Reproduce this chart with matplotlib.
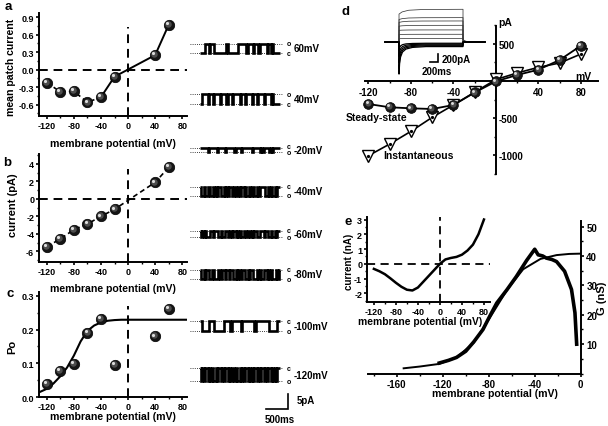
import numpy as np
import matplotlib
matplotlib.use("Agg")
import matplotlib.pyplot as plt
from matplotlib.ticker import MultipleLocator, FixedLocator, FormatStrFormatter
from matplotlib.transforms import offset_copy

plt.rcParams['font.family'] = ['Liberation Sans', 'DejaVu Sans']
plt.rcParams['font.weight'] = 'bold'
plt.rcParams['axes.labelweight'] = 'bold'
plt.rcParams['axes.unicode_minus'] = False

# ---------------- data ----------------
# panels a-c: single-channel recordings
patch_mv = [-120, -100, -80, -60, -40, -20, 40, 60]
mean_patch_current = [-0.22, -0.38, -0.37, -0.56, -0.47, -0.12, 0.25, 0.77]
unit_current_pA = [-5.45, -4.57, -3.5, -2.86, -1.98, -1.18, 1.9, 3.62]
open_probability = [0.039, 0.079, 0.098, 0.19, 0.231, 0.095, 0.18, 0.26]
po_fit_mv = [-131, -120, -110, -100, -90, -80, -70, -60, -50, -40, -30, -20, -10, 0, 20, 40, 60, 87]
po_fit = [0.015, 0.025, 0.041, 0.062, 0.088, 0.123, 0.165, 0.196, 0.212, 0.221, 0.226,
          0.228, 0.229, 0.229, 0.229, 0.229, 0.229, 0.229]

# single-channel traces (1 = open, 0 = closed, equal time bins over 1830 ms)
trace_labels = ['60mV', '40mV', '-20mV', '-40mV', '-60mV', '-80mV', '-100mV', '-120mV']
trace_amp_pA = [3.3, 3.3, -1.3, -3.0, -2.2, -3.1, -3.3, -4.4]
trace_states = [
    "000011101110000000001000000001111110111101110111110110100000",
    "001111011101111011110111011111011101111011101111011110100000",
    "000000100000010000010000001000010000000100000101000010100000",
    "011011001101010011010100110110100101101001101000011010110100",
    "010101110010001101100110100101011001001010011000100110110100",
    "011010011001110110010010011010110011010011101011001010111010",
    "001111100001111111000001000000010000000001000000000011111100",
    "010100101011010010100101001011010100101010010100101001010100",
]
trace_duration_ms = 1830

# panel d: whole-cell I-V
iv_mv = [-120, -100, -80, -60, -40, -20, 0, 20, 40, 60, 80]
steady_pA = [-310, -354, -368, -377, -323, -155, -5, 81, 152, 283, 475]
instant_pA = [-1005, -848, -677, -489, -323, -150, 20, 108, 184, 242, 363]

# panel d inset: current family
dep_initial_pA = [670, 540, 470, 380, 280, 180, 80]
dep_steady_pA = [785, 585, 505, 400, 290, 185, 82]
hyp_peak_pA = [-770, -640, -500, -350, -200]
hyp_steady_pA = [-110, -90, -70, -50, -30]
rise_t_ms = [0, 80, 250, 600, 1662]
rise_frac = [0, 0.45, 0.8, 0.95, 1.0]
relax_t_ms = [0, 15, 40, 90, 180, 350, 700, 1662]
relax_frac = [1, 0.62, 0.38, 0.2, 0.09, 0.03, 0.0, 0.0]

# panel e: ramp current and conductance
ramp_mv = [-120, -110, -100, -90, -80, -70, -60, -50, -40, -30, -20, -10, 0, 10, 20, 30, 40, 50, 60, 70, 80]
ramp_nA = [-0.34, -0.5, -0.7, -0.98, -1.28, -1.55, -1.75, -1.8, -1.6, -1.2, -0.8, -0.4,
           0.0, 0.3, 0.4, 0.47, 0.62, 0.9, 1.3, 2.0, 3.0]
g_mv = [-123, -115, -108, -100, -93, -85, -79, -73, -64, -56, -47, -40, -37, -33, -30,
        -25, -21, -14, -8, -5, -3.5]
g_nS = [3.6, 4.5, 5.5, 7.6, 10.8, 15, 19.6, 24, 28.6, 33, 38.5, 42.3, 40.4, 40.0, 39.3,
        38.8, 38.1, 34.8, 28.6, 20.7, 10]
g_fit_mv = [-154, -140, -123, -108, -93, -79, -64, -50, -35, -21, -10, 0]
g_fit_nS = [1.8, 2.4, 3.3, 5.5, 10.5, 19, 28.5, 35.5, 39, 40.3, 40.7, 40.8]

# ---------------- figure ----------------
W, H = 608, 427
fig = plt.figure(figsize=(W / 100, H / 100), dpi=100)


def add_ax(l, t, r, b):
    return fig.add_axes([l / W, 1 - b / H, (r - l) / W, (b - t) / H])


def ftext(x, y, s, **kw):
    kw.setdefault('fontweight', 'bold')
    fig.text(x / W, 1 - y / H, s, **kw)


def fig_xy(x, y):
    return (x / W, 1 - y / H)


DASH = (0, (4.5, 3))
K = 'black'


def spheres(ax, x, y, ms=7.5, z=5):
    ax.plot(x, y, 'o', ls='none', ms=ms, mfc='#151515', mec='#000000', mew=0.5,
            zorder=z, clip_on=False)
    t1 = offset_copy(ax.transData, fig=fig, x=-0.6, y=0.6, units='points')
    ax.plot(x, y, 'o', ls='none', ms=ms * 0.62, mfc='#4d4d4d', mew=0, transform=t1,
            zorder=z + 0.1, clip_on=False)
    t2 = offset_copy(ax.transData, fig=fig, x=-1.3, y=1.3, units='points')
    ax.plot(x, y, 'o', ls='none', ms=ms * 0.3, mfc='#dcdcdc', mew=0, transform=t2,
            zorder=z + 0.2, clip_on=False)


def style_std(ax, ls=6.5):
    for s in ('top', 'right'):
        ax.spines[s].set_visible(False)
    for s in ('left', 'bottom'):
        ax.spines[s].set_linewidth(1.4)
    ax.tick_params(which='major', length=2.5, width=1.2, labelsize=ls, pad=1.2)
    ax.tick_params(which='minor', length=1.5, width=1.0)
    ax.patch.set_alpha(0)


def mv_axis(ax):
    ax.set_xlim(-131, 87)
    ax.xaxis.set_major_locator(MultipleLocator(40))
    ax.xaxis.set_minor_locator(MultipleLocator(20))


# ---- panel a ----
axa = add_ax(39.3, 14, 187, 117)
style_std(axa)
mv_axis(axa)
axa.set_ylim(-0.794, 0.972)
axa.yaxis.set_major_locator(FixedLocator([-0.6, -0.3, 0.0, 0.3, 0.6, 0.9]))
axa.yaxis.set_minor_locator(MultipleLocator(0.15))
axa.yaxis.set_major_formatter(FormatStrFormatter('%.1f'))
axa.axhline(0, ls=DASH, color=K, lw=1.4)
axa.plot([0, 0], [-0.794, 0.73], ls=DASH, color=K, lw=1.4)
axa.plot(patch_mv[:5], mean_patch_current[:5], ls=(0, (3, 2)), color=K, lw=1.2)
axa.plot(patch_mv[4:], mean_patch_current[4:], '-', color=K, lw=1.4)
spheres(axa, patch_mv, mean_patch_current)
axa.set_ylabel('mean patch current', fontsize=7.6)
axa.yaxis.set_label_coords(*fig_xy(16.5, 67), transform=fig.transFigure)
axa.set_xlabel('membrane potential (mV)', fontsize=7.6)
axa.xaxis.set_label_coords(*fig_xy(113, 139), transform=fig.transFigure)

# ---- panel b ----
axb = add_ax(39.3, 155, 187, 263)
style_std(axb)
mv_axis(axb)
axb.set_ylim(-7.2, 5.14)
axb.yaxis.set_major_locator(MultipleLocator(2))
axb.yaxis.set_minor_locator(MultipleLocator(1))
axb.axhline(0, ls=DASH, color=K, lw=1.4)
axb.plot([0, 0], [-7.2, 3.4], ls=DASH, color=K, lw=1.4)
axb.plot(patch_mv, unit_current_pA, ls=(0, (3, 2)), color=K, lw=1.2)
spheres(axb, patch_mv, unit_current_pA)
axb.set_ylabel('current (pA)', fontsize=8)
axb.yaxis.set_label_coords(*fig_xy(17.8, 205), transform=fig.transFigure)
axb.set_xlabel('membrane potential (mV)', fontsize=7.6)
axb.xaxis.set_label_coords(*fig_xy(113, 284), transform=fig.transFigure)

# ---- panel c ----
axc = add_ax(39.3, 293.3, 187, 398.3)
style_std(axc)
axc.tick_params(axis='x', which='major', pad=0.6)
mv_axis(axc)
axc.set_ylim(0, 0.31)
axc.yaxis.set_major_locator(MultipleLocator(0.1))
axc.yaxis.set_minor_locator(MultipleLocator(0.05))
axc.yaxis.set_major_formatter(FormatStrFormatter('%.1f'))
axc.plot([0, 0], [0, 0.27], ls=DASH, color=K, lw=1.4)
axc.plot(po_fit_mv, po_fit, '-', color=K, lw=1.5)
spheres(axc, patch_mv, open_probability)
axc.set_ylabel('Po', fontsize=8)
axc.yaxis.set_label_coords(*fig_xy(17, 347), transform=fig.transFigure)
axc.set_xlabel('membrane potential (mV)', fontsize=7.6)
axc.xaxis.set_label_coords(*fig_xy(113, 412.5), transform=fig.transFigure)

# ---- single-channel traces ----
axt = add_ax(185, 20, 335, 427)
axt.axis('off')
axt.set_xlim(-330.4, 3083.7)
axt.set_ylim(0, 135.67)
trace_closed_pos = [124.2, 107.3, 92.7, 79.7, 65.1, 52.1, 34.9, 19.3]  # layout offsets
for lab, amp, st, c0 in zip(trace_labels, trace_amp_pA, trace_states, trace_closed_pos):
    states = np.array([int(ch) for ch in st])
    edges = np.linspace(0, trace_duration_ms, len(states) + 1)
    axt.stairs(c0 + amp * states, edges, baseline=None, color=K, lw=1.9)
    o0 = c0 + amp
    axt.hlines([c0, o0], -220, 1872, colors=K, linestyles=(0, (1, 1.6)), lw=0.6)
    mid = (c0 + o0) / 2
    half = max(abs(amp), 2.0) / 2 * np.sign(amp)
    axt.text(2027, mid - half, 'c', fontsize=5, ha='center', va='center')
    axt.text(2027, mid + half, 'o', fontsize=5, ha='center', va='center')
    axt.text(2137, mid, lab, fontsize=7, ha='left', va='center')
# scale bar 500 ms / 5 pA
axt.plot([1520, 2020, 2020], [5.67, 5.67, 10.67], color=K, lw=1.2, solid_joinstyle='miter')
ftext(297, 401, '5pA', fontsize=7, ha='left', va='center')
ftext(280, 420, '500ms', fontsize=7, ha='center', va='center')

# ---- panel d ----
axd = add_ax(360, 22, 602, 178)
axd.patch.set_alpha(0)
axd.set_xlim(-128, 99.8)
axd.set_ylim(-1292, 807)
axd.spines['left'].set_visible(False)
axd.spines['top'].set_visible(False)
axd.spines['right'].set_position(('data', 0))
axd.spines['bottom'].set_position(('data', 0))
axd.spines['right'].set_bounds(-1256, 746)
axd.spines['bottom'].set_bounds(-123, 96)
for s in ('right', 'bottom'):
    axd.spines[s].set_linewidth(1.4)
axd.yaxis.tick_right()
axd.yaxis.set_major_locator(FixedLocator([-1000, -500, 500]))
axd.yaxis.set_minor_locator(MultipleLocator(250))
axd.xaxis.set_major_locator(FixedLocator([-120, -80, -40, 40, 80]))
axd.xaxis.set_minor_locator(MultipleLocator(20))
axd.tick_params(axis='y', which='both', direction='in', labelsize=7, pad=2)
axd.tick_params(axis='x', which='both', direction='out', labelsize=7, pad=1.5)
axd.tick_params(which='major', length=2.5, width=1.2)
axd.tick_params(which='minor', length=1.5, width=1.0)
axd.plot(iv_mv, instant_pA, '-', color=K, lw=1.2, zorder=3)
axd.plot(iv_mv, instant_pA, 'v', ls='none', ms=8, mfc='white', mec=K, mew=1.0, zorder=4,
         clip_on=False)
axd.plot(iv_mv, instant_pA, 'o', ls='none', ms=1.3, color=K, zorder=4.5, clip_on=False)
axd.plot(iv_mv, steady_pA, '-', color=K, lw=1.3, zorder=5)
spheres(axd, iv_mv, steady_pA, ms=7, z=6)
ftext(377, 118, 'Steady-state', fontsize=7.5, ha='center', va='center')
ftext(418, 156, 'Instantaneous', fontsize=7.5, ha='center', va='center')
ftext(498, 23, 'pA', fontsize=7.5, ha='left', va='center')
ftext(583, 77, 'mV', fontsize=7.5, ha='center', va='center')

# ---- panel d inset ----
axdi = add_ax(383, 0, 491, 80)
axdi.axis('off')
axdi.set_xlim(0, 2805)
axdi.set_ylim(-888, 1032)
t_pre, t_on, t_off, t_end = 52, 416, 2078, 2649
for a0, a1 in zip(dep_initial_pA, dep_steady_pA):
    tt = [t_pre, t_on] + [t_on + r for r in rise_t_ms]
    vv = [0, 0] + [a0 + (a1 - a0) * f for f in rise_frac]
    tt += [t_off] + [t_off + r for r in relax_t_ms[:6]] + [t_end]
    vv += [0.1 * a1] + [0.1 * a1 * f for f in relax_frac[:6]] + [0]
    axdi.plot(tt, vv, color='#3a3a3a', lw=0.55)
for pk, ss in zip(hyp_peak_pA, hyp_steady_pA):
    tt = [t_pre, t_on] + [t_on + r for r in relax_t_ms]
    vv = [0, 0] + [ss + (pk - ss) * f for f in relax_frac]
    tt += [t_off, t_end]
    vv += [0, 0]
    axdi.plot(tt, vv, color=K, lw=0.9)
axdi.plot([1229, 1429, 1429], [-487, -487, -287], color=K, lw=1.2, solid_joinstyle='miter')
ftext(442, 60, '200pA', fontsize=7, ha='left', va='center')
ftext(437, 72, '200ms', fontsize=7, ha='center', va='center')

# ---- panel e main ----
axe = add_ax(368, 221.7, 580.7, 374.6)
axe.patch.set_alpha(0)
axe.spines['left'].set_visible(False)
axe.spines['top'].set_visible(False)
for s in ('right', 'bottom'):
    axe.spines[s].set_linewidth(1.4)
axe.set_xlim(-185, 0)
axe.set_ylim(0, 52)
axe.yaxis.tick_right()
axe.yaxis.set_major_locator(FixedLocator([10, 20, 30, 40, 50]))
axe.yaxis.set_minor_locator(MultipleLocator(5))
axe.xaxis.set_major_locator(MultipleLocator(40))
axe.xaxis.set_minor_locator(MultipleLocator(20))
axe.tick_params(which='major', length=2.5, width=1.2, labelsize=7, pad=1.5)
axe.tick_params(which='minor', length=1.5, width=1.0)
axe.plot(g_fit_mv, g_fit_nS, '-', color=K, lw=1.4, zorder=3)
axe.plot(g_mv, g_nS, '-', color=K, lw=2.6, zorder=4)
axe.set_xlabel('membrane potential (mV)', fontsize=7.6)
axe.xaxis.set_label_coords(*fig_xy(495, 389.5), transform=fig.transFigure)
ftext(602, 298, 'G (nS)', fontsize=8, rotation=90, ha='center', va='center')

# ---- panel e inset ----
axei = add_ax(367.3, 218.3, 490, 303.3)
style_std(axei, ls=6.5)
axei.set_xlim(-132, 91)
axei.set_ylim(-2.6, 3.15)
axei.xaxis.set_major_locator(MultipleLocator(40))
axei.xaxis.set_minor_locator(MultipleLocator(20))
axei.yaxis.set_major_locator(MultipleLocator(1))
axei.yaxis.set_minor_locator(MultipleLocator(0.5))
axei.axhline(0, ls=DASH, color=K, lw=1.3)
axei.axvline(0, ls=DASH, color=K, lw=1.3)
axei.plot(ramp_mv, ramp_nA, '-', color=K, lw=1.8)
axei.set_ylabel('current (nA)', fontsize=7)
axei.yaxis.set_label_coords(*fig_xy(354, 262), transform=fig.transFigure)
axei.set_xlabel('membrane potential (mV)', fontsize=7.4)
axei.xaxis.set_label_coords(*fig_xy(420, 317), transform=fig.transFigure)

# ---- panel letters ----
for lt, (x, y) in zip('abcde', [(8, 7), (7, 163), (10, 294), (346, 12), (348, 222)]):
    ftext(x, y, lt, fontsize=9.5, ha='center', va='center')

fig.savefig('out.png', dpi=100)
